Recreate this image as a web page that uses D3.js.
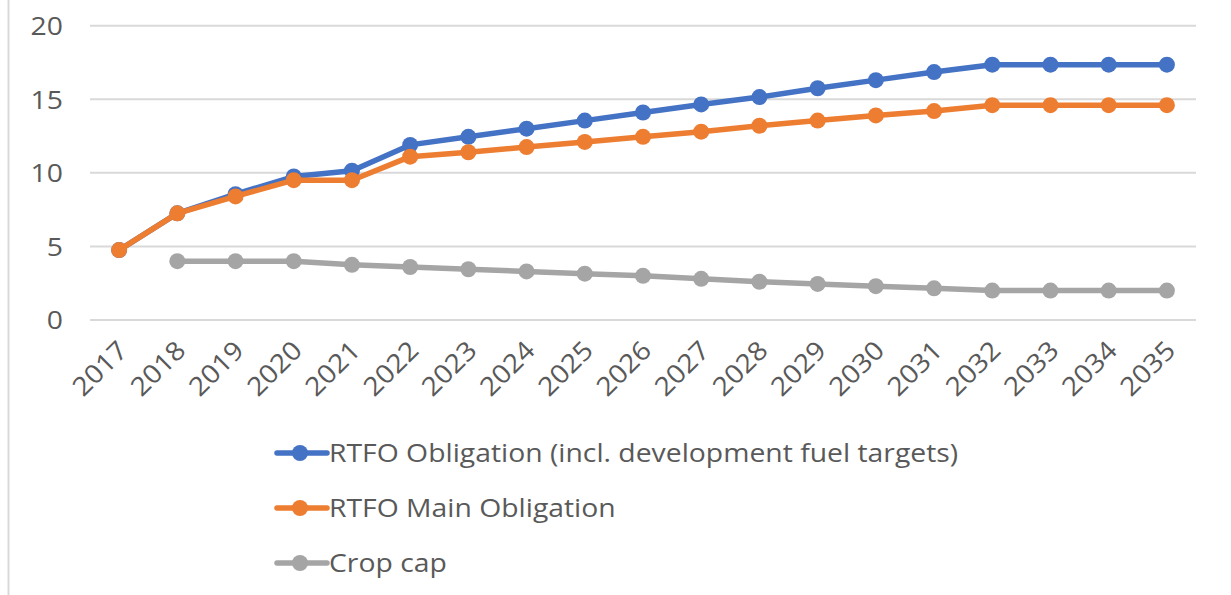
<!DOCTYPE html>
<html><head><meta charset="utf-8">
<script src="https://cdn.jsdelivr.net/npm/d3@7"></script>
<style>body{margin:0;background:#fff}svg{display:block}</style>
</head><body>
<svg id="c" width="1231" height="595"></svg>
<script>
const years = ["2017","2018","2019","2020","2021","2022","2023","2024","2025","2026","2027","2028","2029","2030","2031","2032","2033","2034","2035"];
const rtfoTotal = [4.75,7.25,8.55,9.75,10.15,11.9,12.45,13.0,13.55,14.1,14.65,15.15,15.75,16.3,16.85,17.35,17.35,17.35,17.35];
const rtfoMain = [4.75,7.25,8.4,9.5,9.5,11.1,11.4,11.75,12.1,12.45,12.8,13.2,13.55,13.9,14.2,14.6,14.6,14.6,14.6];
const cropCap = [null,4,4,4,3.75,3.6,3.45,3.3,3.15,3.0,2.8,2.6,2.45,2.3,2.15,2,2,2,2];
const yTicks = [0,5,10,15,20];
const seriesNames = ["RTFO Obligation (incl. development fuel targets)","RTFO Main Obligation","Crop cap"];
const seriesColors = ["#4472c4","#ed7d31","#a5a5a5"];

const svg = d3.select("#c");
const font = "'Open Sans', sans-serif";
const fs = 26, sx = 1.09;
const textColor = "#595959";

const x = d3.scaleBand().domain(years).range([90, 1196]);
const y = d3.scaleLinear().domain([0, 20]).range([320, 25.7]);

// frame line on left
svg.append("line").attr("x1",8.5).attr("x2",8.5).attr("y1",0).attr("y2",595)
  .attr("stroke","#d9d9d9").attr("stroke-width",2);

// gridlines
svg.append("g").selectAll("line").data(yTicks).join("line")
  .attr("x1",x.range()[0]).attr("x2",x.range()[1])
  .attr("y1",d=>y(d)).attr("y2",d=>y(d))
  .attr("stroke","#d9d9d9").attr("stroke-width",2);

// y labels
svg.append("g").selectAll("text").data(yTicks).join("text")
  .attr("transform",d=>`translate(63,${y(d)}) scale(${sx},1)`).attr("dy","0.36em")
  .attr("text-anchor","end").attr("font-family",font).attr("font-size",fs)
  .attr("fill",textColor).text(d=>d);

// x labels
svg.append("g").selectAll("text").data(years).join("text")
  .attr("transform",d=>`translate(${x(d)+x.bandwidth()/2+10},${352}) rotate(-45) scale(${sx},1)`)
  .attr("text-anchor","end").attr("font-family",font).attr("font-size",fs)
  .attr("fill",textColor).text(d=>d);

const data = [rtfoTotal, rtfoMain, cropCap];
const line = d3.line().defined(d=>d[1]!=null)
  .x(d=>x(d[0])+x.bandwidth()/2).y(d=>y(d[1]));

data.forEach((vals,i)=>{
  const pts = years.map((yr,j)=>[yr, vals[j]]);
  const g = svg.append("g");
  g.append("path").datum(pts).attr("d",line).attr("fill","none")
    .attr("stroke",seriesColors[i]).attr("stroke-width",5.5).attr("stroke-linejoin","round");
  g.selectAll("circle").data(pts.filter(p=>p[1]!=null)).join("circle")
    .attr("cx",p=>x(p[0])+x.bandwidth()/2).attr("cy",p=>y(p[1])).attr("r",8)
    .attr("fill",seriesColors[i]);
});

// legend
const leg = svg.append("g");
seriesNames.forEach((name,i)=>{
  const ly = 453 + i*55;
  leg.append("line").attr("x1",277).attr("x2",327).attr("y1",ly).attr("y2",ly)
    .attr("stroke",seriesColors[i]).attr("stroke-width",5.5).attr("stroke-linecap","round");
  leg.append("circle").attr("cx",300).attr("cy",ly).attr("r",8).attr("fill",seriesColors[i]);
  leg.append("text").attr("transform",`translate(329,${ly}) scale(${sx},1)`).attr("dy","0.36em")
    .attr("font-family",font).attr("font-size",fs).attr("fill",textColor).text(name);
});
</script>
</body></html>
